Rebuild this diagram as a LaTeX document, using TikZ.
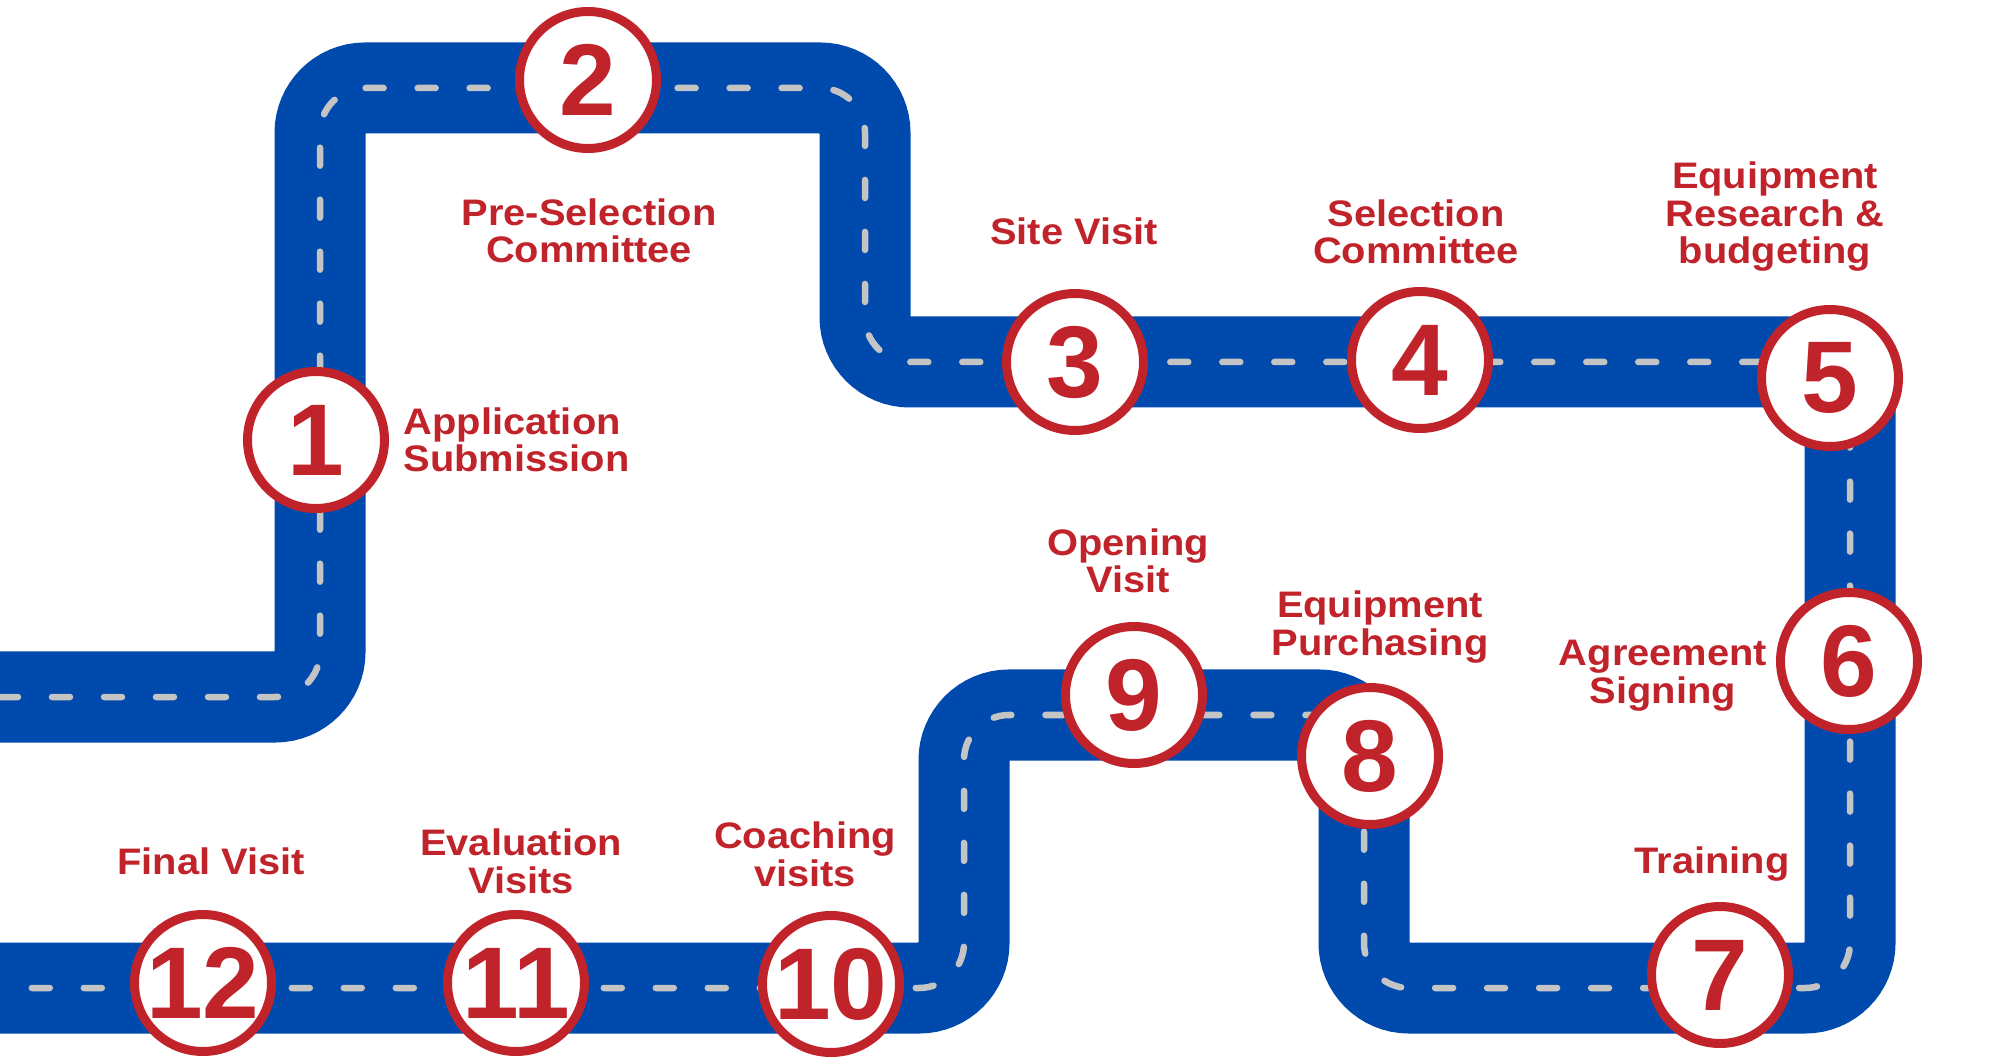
\documentclass[tikz,border=0pt]{standalone}
\usepackage{fontspec}
\setmainfont{Liberation Sans}
\newfontfamily\capfont{Liberation Sans}[FakeStretch=1.08]
\usepackage{xcolor}
\usepackage{tikz}
\usetikzlibrary{backgrounds}
\definecolor{RMBlue}{HTML}{004AAD}
\definecolor{RMRed}{HTML}{C1232B}
\definecolor{RMGrey}{HTML}{C4C4C4}

\begin{document}
\begin{tikzpicture}[
  x=1cm,
  y=-1cm,
  stop/.style={
    circle,
    draw=RMRed,
    line width=0.09cm,
    fill=white,
    text=RMRed,
    minimum size=1.37cm,
    inner sep=0pt,
    font=\bfseries\fontsize{29}{29}\selectfont
  },
  caption/.style={
    text=RMRed,
    align=center,
    inner sep=0pt,
    font=\capfont\bfseries\fontsize{10.5}{10.8}\selectfont
  },
  road/.style={line width=0.91cm, draw=RMBlue, rounded corners=0.45cm},
  lane/.style={
    line width=0.065cm,
    draw=RMGrey,
    line cap=round,
    dash pattern=on 0.18cm off 0.34cm,
    rounded corners=0.45cm
  },
]
\useasboundingbox (0,0) rectangle (20,10.6);

\node[stop] (s1) at (3.16,4.40) {1};
\node[stop] (s2) at (5.88,0.80) {2};
\node[stop] (s3) at (10.75,3.62) {3};
\node[stop] (s4) at (14.20,3.60) {4};
\node[stop] (s5) at (18.30,3.78) {5};
\node[stop] (s6) at (18.49,6.61) {6};
\node[stop] (s7) at (17.20,9.75) {7};
\node[stop] (s8) at (13.70,7.56) {8};
\node[stop] (s9) at (11.34,6.95) {9};
\node[stop] (s10) at (8.31,9.84) {10};
\node[stop] (s11) at (5.16,9.83) {11};
\node[stop] (s12) at (2.03,9.83) {12};

% base anchor sits on the last line
\node[caption,align=left,anchor=base west] (l1) at (4.03,4.72) {Application\\Submission};
\node[caption,anchor=base] (l2) at (5.89,2.63) {Pre-Selection\\Committee};
\node[caption,anchor=base] (l3) at (10.74,2.45) {Site Visit};
\node[caption,anchor=base] (l4) at (14.16,2.64) {Selection\\Committee};
\node[caption,anchor=base] (l5) at (17.75,2.64) {Equipment\\Research \&\\budgeting};
\node[caption,anchor=base] (l6) at (16.63,7.03) {Agreement\\Signing};
\node[caption,anchor=base] (l7) at (17.12,8.73) {Training};
\node[caption,anchor=base] (l8) at (13.80,6.55) {Equipment\\Purchasing};
\node[caption,anchor=base] (l9) at (11.28,5.93) {Opening\\Visit};
\node[caption,anchor=base] (l10) at (8.05,8.86) {Coaching\\visits};
\node[caption,anchor=base] (l11) at (5.21,8.93) {Evaluation\\Visits};
\node[caption,anchor=base] (l12) at (2.11,8.74) {Final Visit};

\begin{scope}[on background layer]
  \draw[road] (0,6.97) -- (3.20,6.97) -- (3.20,0.88) -- (8.65,0.88) -- (8.65,3.62)
    -- (18.50,3.62) -- (18.50,9.88) -- (13.64,9.88) -- (13.64,7.15) -- (9.64,7.15)
    -- (9.64,9.88) -- (0,9.88);
  \draw[lane] (0,6.97) -- (3.20,6.97) -- (3.20,0.88) -- (8.65,0.88) -- (8.65,3.62)
    -- (18.50,3.62) -- (18.50,9.88) -- (13.64,9.88) -- (13.64,7.15) -- (9.64,7.15)
    -- (9.64,9.88) -- (0,9.88);
\end{scope}
\end{tikzpicture}
\end{document}
